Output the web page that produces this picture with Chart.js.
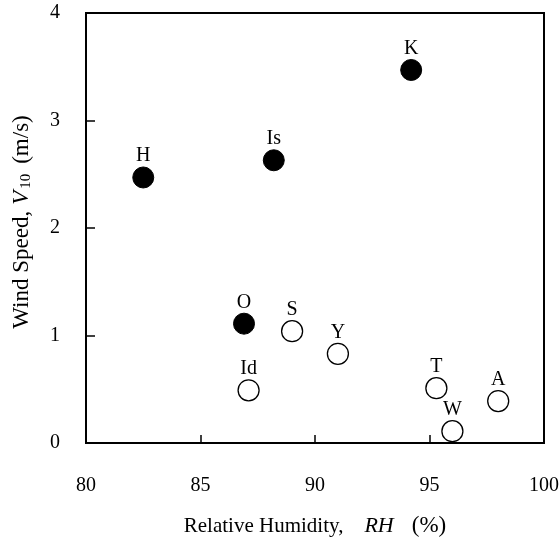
<!DOCTYPE html>
<html>
<head>
<meta charset="utf-8">
<script src="https://cdn.jsdelivr.net/npm/chart.js@4"></script>
<style>
    body { margin: 0; background: #fff; }
    #wrap { width: 560px; height: 545px; position: relative; }
</style>
</head>
<body>
<div id="wrap"><canvas id="windChart"></canvas></div>
<script>
// stations with filled markers
const filledNames = ['H', 'Is', 'K', 'O'];
const filledRH = [82.5, 88.2, 94.2, 86.9];
const filledV = [2.47, 2.63, 3.47, 1.11];

// stations with open markers
const openNames = ['Id', 'S', 'Y', 'T', 'W', 'A'];
const openRH = [87.1, 89.0, 91.0, 95.3, 96.0, 98.0];
const openV = [0.49, 1.04, 0.83, 0.51, 0.11, 0.39];

const xTicks = [80, 85, 90, 95, 100];
const yTicks = [0, 1, 2, 3, 4];

const SERIF = "'Liberation Serif', 'Times New Roman', serif";

function toPoints(xs, ys) {
    return xs.map((x, i) => ({ x: x, y: ys[i] }));
}

// draws a line of text made of runs with different fonts, centered on cx
function drawRuns(ctx, runs, cx, cy) {
    let total = 0;
    runs.forEach(r => {
        ctx.font = r.font;
        r.w = ctx.measureText(r.text).width;
        total += r.w + (r.gap || 0);
    });
    let x = cx - total / 2;
    runs.forEach(r => {
        x += r.gap || 0;
        ctx.font = r.font;
        ctx.fillText(r.text, x, cy + (r.dy || 0));
        x += r.w;
    });
}

const framePlugin = {
    id: 'frame',
    afterDatasetsDraw(chart) {
        const ctx = chart.ctx;
        const area = chart.chartArea;
        const xs = chart.scales.x;
        const ys = chart.scales.y;
        ctx.save();
        ctx.strokeStyle = '#000';

        // inward tick marks
        ctx.lineWidth = 1.5;
        ctx.beginPath();
        xTicks.forEach(v => {
            const px = Math.round(xs.getPixelForValue(v));
            ctx.moveTo(px, area.bottom);
            ctx.lineTo(px, area.bottom - 8);
        });
        yTicks.forEach(v => {
            const py = Math.round(ys.getPixelForValue(v));
            ctx.moveTo(area.left, py);
            ctx.lineTo(area.left + 9, py);
        });
        ctx.stroke();

        // box
        ctx.lineWidth = 2;
        ctx.strokeRect(area.left, area.top, area.right - area.left, area.bottom - area.top);

        // station labels
        ctx.fillStyle = '#000';
        ctx.textAlign = 'left';
        ctx.textBaseline = 'alphabetic';
        chart.data.datasets.forEach((ds, di) => {
            const meta = chart.getDatasetMeta(di);
            meta.data.forEach((pt, i) => {
                drawRuns(ctx, [{ text: ds.names[i], font: '20px ' + SERIF }], pt.x, pt.y - 16);
            });
        });

        // x axis title
        ctx.textBaseline = 'middle';
        drawRuns(ctx, [
            { text: 'Relative Humidity,', font: '21px ' + SERIF },
            { text: 'RH', font: 'italic 22px ' + SERIF, gap: 21 },
            { text: '(%)', font: '23px ' + SERIF, gap: 18 }
        ], (area.left + area.right) / 2, 526);

        // y axis title
        ctx.translate(22, 222);
        ctx.rotate(-Math.PI / 2);
        drawRuns(ctx, [
            { text: 'Wind Speed,', font: '23px ' + SERIF },
            { text: 'V', font: 'italic 23px ' + SERIF, gap: 6 },
            { text: '10', font: '15px ' + SERIF, dy: 4, gap: 2 },
            { text: '(m/s)', font: '23px ' + SERIF, gap: 10 }
        ], 0, 0);
        ctx.restore();
    }
};

const ctx = document.getElementById('windChart').getContext('2d');
const windChart = new Chart(ctx, {
    type: 'scatter',
    data: {
        datasets: [
            {
                names: filledNames,
                data: toPoints(filledRH, filledV),
                backgroundColor: '#000',
                borderColor: '#000',
                borderWidth: 1,
                pointRadius: 10.5
            },
            {
                names: openNames,
                data: toPoints(openRH, openV),
                backgroundColor: '#fff',
                borderColor: '#000',
                borderWidth: 1.3,
                pointRadius: 10.5
            }
        ]
    },
    options: {
        responsive: true,
        maintainAspectRatio: false,
        animation: false,
        events: [],
        layout: { padding: { top: 13, right: 16, left: 0, bottom: 0 } },
        plugins: {
            legend: { display: false },
            tooltip: { enabled: false }
        },
        scales: {
            x: {
                type: 'linear',
                min: 80,
                max: 100,
                afterBuildTicks: s => { s.ticks = xTicks.map(v => ({ value: v })); },
                afterFit: s => {
                    s.height = 102;
                    s.paddingLeft = 0;
                    s.paddingRight = 0;
                },
                grid: { display: false, drawTicks: false },
                border: { display: false },
                ticks: { color: '#000', font: { family: SERIF, size: 20 }, padding: 31, maxRotation: 0 }
            },
            y: {
                type: 'linear',
                min: 0,
                max: 4,
                afterBuildTicks: s => { s.ticks = yTicks.map(v => ({ value: v })); },
                afterFit: s => {
                    s.width = 86;
                    s.paddingTop = 0;
                    s.paddingBottom = 0;
                },
                grid: { display: false, drawTicks: false },
                border: { display: false },
                ticks: { color: '#000', font: { family: SERIF, size: 20 }, padding: 26 }
            }
        }
    },
    plugins: [framePlugin]
});
</script>
</body>
</html>
